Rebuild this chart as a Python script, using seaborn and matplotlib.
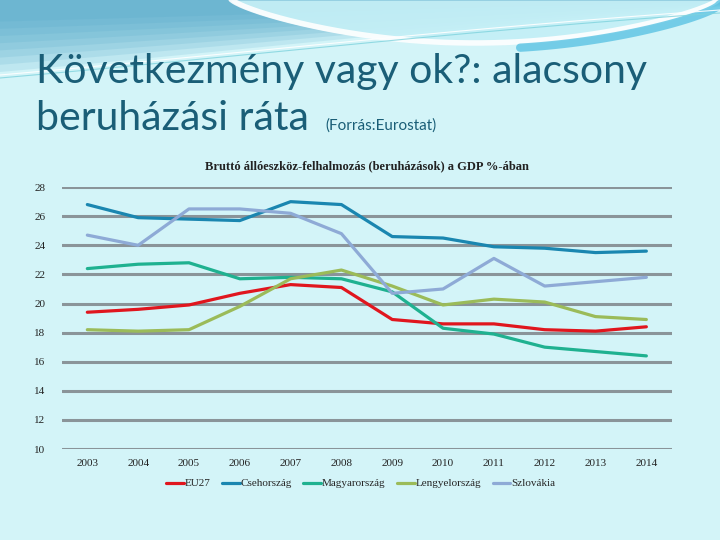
import numpy as np
import pandas as pd
import seaborn as sns
import matplotlib.pyplot as plt
from matplotlib.lines import Line2D

years = ["2003", "2004", "2005", "2006", "2007", "2008", "2009", "2010", "2011", "2012", "2013", "2014"]
eu27 = [19.4, 19.6, 19.9, 20.7, 21.3, 21.1, 18.9, 18.6, 18.6, 18.2, 18.1, 18.4]
csehorszag = [26.8, 25.9, 25.8, 25.7, 27.0, 26.8, 24.6, 24.5, 23.9, 23.8, 23.5, 23.6]
magyarorszag = [22.4, 22.7, 22.8, 21.7, 21.8, 21.7, 20.8, 18.3, 17.9, 17.0, 16.7, 16.4]
lengyelorszag = [18.2, 18.1, 18.2, 19.8, 21.7, 22.3, 21.2, 19.9, 20.3, 20.1, 19.1, 18.9]
szlovakia = [24.7, 24.0, 26.5, 26.5, 26.2, 24.8, 20.7, 21.0, 23.1, 21.2, 21.5, 21.8]

series_names = ["EU27", "Csehország", "Magyarország", "Lengyelország", "Szlovákia"]
colors = ["#e0161e", "#1a86b0", "#1fb190", "#9bbb59", "#8eaad6"]

df = pd.DataFrame({"Év": years * 5,
                   "idx": list(range(len(years))) * 5,
                   "Ország": np.repeat(series_names, len(years)),
                   "Érték": eu27 + csehorszag + magyarorszag + lengyelorszag + szlovakia})

sns.set_theme(style="white")
plt.rcParams['font.family'] = ['Liberation Serif', 'DejaVu Serif']

fig = plt.figure(figsize=(7.2, 5.4), dpi=100)
bg_col = "#d3f4f8"
fig.patch.set_facecolor(bg_col)

# background decoration (slide waves)
bg = fig.add_axes([0, 0, 1, 1], zorder=-10)
bg.set_xlim(0, 720)
bg.set_ylim(540, 0)
bg.axis("off")
xs = np.linspace(0, 720, 300)
lower = 72 - 40 * np.sin(np.pi * xs / 1440) - 25 * (xs / 720) ** 2
for k in range(8):
    bg.fill_between(xs, 0, lower * (1 - k / 10), color="#4aa3c6", alpha=0.15, lw=0)
# light sweep on the right
m = xs > 230
sweep = 45 * np.sin(np.pi * np.clip((xs - 230) / 490, 0, 1)) ** 0.7
bg.fill_between(xs[m], 0, sweep[m], color="#c4eff6", alpha=0.95, lw=0)
bg.plot(xs[m], sweep[m] - 2, color="white", lw=4, alpha=0.9)
m2 = xs > 520
bg.plot(xs[m2], sweep[m2] + 4, color="#5bc3e3", lw=6, alpha=0.8)
bg.plot(xs, lower + 3, color="white", lw=0.8, alpha=0.9)
bg.plot(xs, lower + 6, color="#7fd3dd", lw=0.8, alpha=0.8)

title_font = ["Lato", "DejaVu Sans"]
fig.text(0.050, 0.846, "Következmény vagy ok?: alacsony", family=title_font,
         fontsize=29.5, color="#1a5e77", va="baseline")
fig.text(0.050, 0.759, "beruházási ráta", family=title_font,
         fontsize=29.5, color="#1a5e77", va="baseline")
fig.text(0.452, 0.759, "(Forrás:Eurostat)", family=title_font,
         fontsize=11, color="#1a5e77", va="baseline")

ax = fig.add_axes([0.086, 0.1685, 0.847, 0.485])
ax.set_facecolor("none")
sns.lineplot(data=df, x="idx", y="Érték", hue="Ország", palette=colors,
             linewidth=2.3, ax=ax, legend=False, sort=False)

ax.set_xlim(-0.5, len(years) - 0.5)
ax.set_ylim(10, 28)
ax.set_yticks(range(10, 29, 2))
ax.set_xticks(range(len(years)))
ax.set_xticklabels(years)
ax.set_xlabel("")
ax.set_ylabel("")
for s in ax.spines.values():
    s.set_visible(False)
ax.grid(axis="y", color="#8a9499", lw=2.2)
ax.set_axisbelow(True)
ax.tick_params(axis="both", length=0, labelsize=8, colors="#222222")
ax.tick_params(axis="y", pad=12)
ax.tick_params(axis="x", pad=7)

ax.set_title("Bruttó állóeszköz-felhalmozás (beruházások) a GDP %-ában",
             fontsize=9, fontweight="bold", color="#222222", pad=13)

handles = [Line2D([0], [0], color=c, lw=2.3) for c in colors]
ax.legend(handles, series_names, loc="upper center", bbox_to_anchor=(0.49, -0.075),
          ncol=5, frameon=False, fontsize=8, handlelength=1.6, handletextpad=0.1,
          columnspacing=1.0)

fig.savefig("out.png", dpi=100, facecolor=fig.get_facecolor())
